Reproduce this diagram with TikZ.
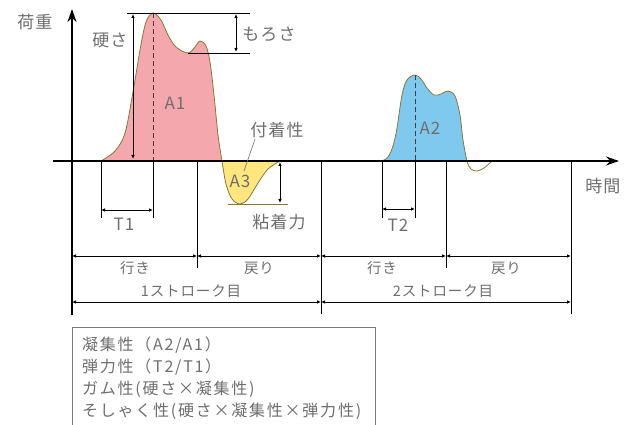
\documentclass[tikz,border=0pt]{standalone}
\usepackage{fontspec}
\setmainfont[LetterSpace=6]{Noto Sans CJK JP}
\newfontfamily\boxfont[LetterSpace=11]{Noto Sans CJK JP}
\usetikzlibrary{arrows.meta, positioning}
\definecolor{txtgray}{HTML}{6E6E6E}
\definecolor{boxgray}{HTML}{7A7A7A}
\definecolor{pinkA}{HTML}{F4A7AD}
\definecolor{blueA}{HTML}{7FC9EF}
\definecolor{yellowA}{HTML}{FFE67F}
\definecolor{olive}{HTML}{857A35}

\begin{document}
\begin{tikzpicture}[x=1pt, y=-1pt,
    lbl/.style={text=txtgray, font=\fontsize{17}{19}\selectfont, inner sep=1pt},
    small/.style={text=txtgray, font=\fontsize{14.5}{16}\selectfont, inner sep=1pt},
    dim/.style={{Latex[length=4pt,width=3.5pt]}-{Latex[length=4pt,width=3.5pt]}, line width=0.8pt},
    guide/.style={line width=0.8pt},
    axis/.style={line width=2.2pt, -{Stealth[length=13pt,width=9pt]}},
    curve/.style={draw=olive, line width=0.8pt}]
    \useasboundingbox (0,0) rectangle (630,425);
    \clip (0,0) rectangle (630,425);

    % Areas under the first and second stroke
    \fill[pinkA] plot[smooth, tension=0.55] coordinates {(101,161) (115,151) (125,133) (133,92) (140,50) (146,22) (153,13) (161,20) (168,35) (176,47) (188,53) (195,47) (200,41) (206,46) (210,62) (214,95) (218,135) (222,161)} -- cycle;
    \fill[yellowA] plot[smooth, tension=0.55] coordinates {(222,161) (226,184) (232,199) (240,204) (248,199) (258,183) (268,169) (280,161)} -- cycle;
    \fill[blueA] plot[smooth, tension=0.55] coordinates {(382,161) (388,157) (393,146) (397,128) (402,95) (407,80) (415,75) (421,79) (427,88) (434,95) (441,94) (448,91) (455,96) (460,115) (463,140) (467,161)} -- cycle;
    \draw[curve] plot[smooth, tension=0.55] coordinates {(101,161) (115,151) (125,133) (133,92) (140,50) (146,22) (153,13) (161,20) (168,35) (176,47) (188,53) (195,47) (200,41) (206,46) (210,62) (214,95) (218,135) (222,161) (226,184) (232,199) (240,204) (248,199) (258,183) (268,169) (280,161)};
    \draw[curve] plot[smooth, tension=0.55] coordinates {(382,161) (388,157) (393,146) (397,128) (402,95) (407,80) (415,75) (421,79) (427,88) (434,95) (441,94) (448,91) (455,96) (460,115) (463,140) (467,161) (471,169) (477,171) (484,168) (492,161)};

    % Reference points
    \coordinate (peak1) at (153,13);
    \coordinate (peak2) at (415,75);
    \coordinate (base1) at (153,161);
    \coordinate (base2) at (415,161);
    \coordinate (t1a) at (101,161);
    \coordinate (t1b) at (101,218);
    \coordinate (t1c) at (153,218);
    \coordinate (t2a) at (382,161);
    \coordinate (t2b) at (382,218);
    \coordinate (t2c) at (415,218);
    \coordinate (sepA) at (197,161);
    \coordinate (sepAb) at (197,268);
    \coordinate (sepB) at (446,161);
    \coordinate (sepBb) at (446,268);
    \coordinate (strA) at (321,161);
    \coordinate (strAb) at (321,314);
    \coordinate (strB) at (571,161);
    \coordinate (strBb) at (571,314);
    \coordinate (topL) at (127,13);
    \coordinate (topR) at (250,13);
    \coordinate (dipL) at (188,53);
    \coordinate (dipR) at (250,53);
    \coordinate (minL) at (228,204);
    \coordinate (minR) at (288,204);

    % Guide lines
    \draw[guide, dashed, dash pattern=on 5pt off 3pt, black!75] (peak1) -- (base1);
    \draw[guide, dashed, dash pattern=on 5pt off 3pt, black!75] (peak2) -- (base2);
    \draw[guide] (base1) -- (t1c);
    \draw[guide] (t1a) -- (t1b);
    \draw[guide] (base2) -- (t2c);
    \draw[guide] (t2a) -- (t2b);
    \draw[guide] (sepA) -- (sepAb);
    \draw[guide] (sepB) -- (sepBb);
    \draw[guide] (strA) -- (strAb);
    \draw[guide] (strB) -- (strBb);
    \draw[guide] (topL) -- (topR);
    \draw[guide] (dipL) -- (dipR);
    \draw[guide, olive] (minL) -- (minR);

    % Axes
    \coordinate (ybot) at (72,315);
    \coordinate (ytop) at (72,9);
    \coordinate (xl) at (53,161);
    \coordinate (xr) at (619,161);
    \draw[axis] (ybot) -- (ytop);
    \draw[axis] (xl) -- (xr);

    % Dimension arrows
    \draw[dim] (133,159) -- (133,14);
    \draw[dim] (236,14) -- (236,52);
    \draw[dim] (280,162) -- (280,203);
    \draw[dim] (101,210) -- (153,210);
    \draw[dim] (382,209) -- (415,209);
    \draw[dim] (72,256) -- (197,256);
    \draw[dim] (197,256) -- (321,256);
    \draw[dim] (321,256) -- (446,256);
    \draw[dim] (446,256) -- (571,256);
    \draw[dim] (72,302) -- (321,302);
    \draw[dim] (321,302) -- (571,302);

    % Labels
    \node[lbl] (load) at (35,22) {荷重};
    \node[lbl] (time) at (603,186) {時間};
    \node[lbl] (hard) at (110,40) {硬さ};
    \node[lbl] (brittle) at (269,34) {もろさ};
    \node[lbl] (a1) at (175,103) {A1};
    \node[lbl] (adh) at (277,130) {付着性};
    \node[lbl] (a3) at (240,181) {A3};
    \node[lbl] (stick) at (279,222) {粘着力};
    \node[lbl] (t1) at (124,224) {T1};
    \node[lbl] (a2) at (430,128) {A2};
    \node[lbl] (t2) at (398,225) {T2};
    \coordinate (ptr) at (244,171);
    \draw[txtgray, line width=0.6pt] ([xshift=-22pt]adh.south) -- (ptr);

    \node[small] (go1) at (135,268) {行き};
    \node[small] (back1) at (259,268) {戻り};
    \node[small] (go2) at (382,268) {行き};
    \node[small] (back2) at (506,268) {戻り};
    \node[small] (stroke1) at (191,291) {1ストローク目};
    \node[small] (stroke2) at (443,291) {2ストローク目};

    % Formula box
    \node[draw=boxgray, line width=0.8pt, anchor=north west, minimum width=303pt, minimum height=110pt] (note) at (72,327) {};
    \node[small, anchor=north west, align=left, font=\boxfont\fontsize{16}{22}\selectfont] (notetext) at ([xshift=9pt, yshift=-9pt]note.north west)
        {凝集性（A2/A1）\\弾力性（T2/T1）\\ガム性(硬さ×凝集性)\\そしゃく性(硬さ×凝集性×弾力性)};
\end{tikzpicture}
\end{document}
